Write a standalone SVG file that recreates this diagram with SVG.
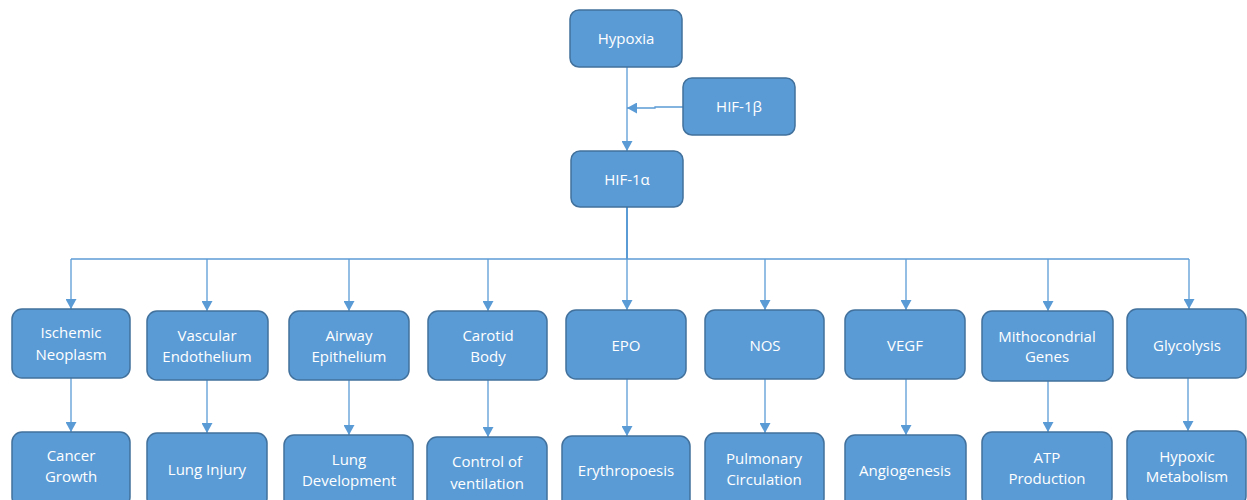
<svg xmlns="http://www.w3.org/2000/svg" width="1247" height="500" viewBox="0 0 1247 500">
<defs>
<marker id="ah" markerUnits="userSpaceOnUse" markerWidth="11" markerHeight="11" refX="10" refY="5.5" orient="auto">
<path d="M0,0 L10,5.5 L0,11 Z" fill="#5B9BD5"/>
</marker>
<style>
.box{fill:#5B9BD5;stroke:#41719C;stroke-width:1.5}
.t{font-family:"Open Sans","Liberation Sans",sans-serif;font-size:15px;fill:#ffffff;text-anchor:middle}
.c{stroke:#5B9BD5;stroke-width:1.3;fill:none}
.a{stroke:#5B9BD5;stroke-width:1.3;fill:none;marker-end:url(#ah)}
</style>
</defs>
<rect width="1247" height="500" fill="#ffffff"/>
<g id="connectors">
<path class="a" d="M627,67 L627,151"/>
<path class="a" d="M683,107 L655,107 L655,108 L627,108"/>
<path class="c" style="stroke-width:2" d="M627,207 L627,259"/>
<path class="c" d="M71,259 L1189,259"/>
<path class="a" d="M71,259 L71,309"/>
<path class="a" d="M207,259 L207,311"/>
<path class="a" d="M349,259 L349,311"/>
<path class="a" d="M488,259 L488,311"/>
<path class="a" d="M627,259 L627,310"/>
<path class="a" d="M765,259 L765,310"/>
<path class="a" d="M906,259 L906,310"/>
<path class="a" d="M1048,259 L1048,311"/>
<path class="a" d="M1189,259 L1189,309"/>
<path class="a" d="M71,378 L71,432"/>
<path class="a" d="M207,380 L207,433"/>
<path class="a" d="M349,380 L349,435"/>
<path class="a" d="M488,380 L488,437"/>
<path class="a" d="M627,379 L627,436"/>
<path class="a" d="M765,379 L765,433"/>
<path class="a" d="M906,379 L906,435"/>
<path class="a" d="M1048,381 L1048,432"/>
<path class="a" d="M1188,378 L1188,431"/>
</g>
<g id="hypoxia"><rect class="box" x="570" y="10" width="112" height="57" rx="9"/><text class="t" x="626" y="44">Hypoxia</text></g>
<g id="hif1b"><rect class="box" x="683" y="78" width="112" height="57" rx="9"/><text class="t" x="739" y="112">HIF-1β</text></g>
<g id="hif1a"><rect class="box" x="571" y="151" width="112" height="56" rx="9"/><text class="t" x="627" y="185">HIF-1α</text></g>

<g id="ischemic"><rect class="box" x="12" y="309" width="118" height="69" rx="10"/><text class="t" x="71" y="338">Ischemic</text><text class="t" x="71" y="360">Neoplasm</text></g>
<g id="vascular"><rect class="box" x="147" y="311" width="121" height="69" rx="10"/><text class="t" x="207" y="341">Vascular</text><text class="t" x="207" y="362">Endothelium</text></g>
<g id="airway"><rect class="box" x="289" y="311" width="120" height="69" rx="10"/><text class="t" x="349" y="341">Airway</text><text class="t" x="349" y="362">Epithelium</text></g>
<g id="carotid"><rect class="box" x="428" y="311" width="119" height="69" rx="10"/><text class="t" x="488" y="341">Carotid</text><text class="t" x="488" y="362">Body</text></g>
<g id="epo"><rect class="box" x="566" y="310" width="120" height="69" rx="10"/><text class="t" x="626" y="351">EPO</text></g>
<g id="nos"><rect class="box" x="705" y="310" width="119" height="69" rx="10"/><text class="t" x="765" y="351">NOS</text></g>
<g id="vegf"><rect class="box" x="845" y="310" width="120" height="69" rx="10"/><text class="t" x="905" y="351">VEGF</text></g>
<g id="mitho"><rect class="box" x="982" y="311" width="131" height="70" rx="10"/><text class="t" x="1047" y="342">Mithocondrial</text><text class="t" x="1047" y="362">Genes</text></g>
<g id="glycolysis"><rect class="box" x="1127" y="309" width="119" height="69" rx="10"/><text class="t" x="1187" y="351">Glycolysis</text></g>

<g id="cancer"><rect class="box" x="12" y="432" width="118" height="75" rx="10"/><text class="t" x="71" y="461">Cancer</text><text class="t" x="71" y="482">Growth</text></g>
<g id="lunginjury"><rect class="box" x="147" y="433" width="120" height="75" rx="10"/><text class="t" x="207" y="475">Lung Injury</text></g>
<g id="lungdev"><rect class="box" x="284" y="435" width="129" height="75" rx="10"/><text class="t" x="349" y="465">Lung</text><text class="t" x="349" y="486">Development</text></g>
<g id="ventilation"><rect class="box" x="427" y="437" width="120" height="75" rx="10"/><text class="t" x="487" y="467">Control of</text><text class="t" x="487" y="489">ventilation</text></g>
<g id="erythro"><rect class="box" x="562" y="436" width="128" height="75" rx="10"/><text class="t" x="626" y="476">Erythropoesis</text></g>
<g id="pulmonary"><rect class="box" x="705" y="433" width="119" height="75" rx="10"/><text class="t" x="764" y="464">Pulmonary</text><text class="t" x="764" y="485">Circulation</text></g>
<g id="angio"><rect class="box" x="845" y="435" width="121" height="75" rx="10"/><text class="t" x="905" y="476">Angiogenesis</text></g>
<g id="atp"><rect class="box" x="982" y="432" width="130" height="75" rx="10"/><text class="t" x="1047" y="463">ATP</text><text class="t" x="1047" y="484">Production</text></g>
<g id="hypoxicmet"><rect class="box" x="1127" y="431" width="119" height="75" rx="10"/><text class="t" x="1187" y="462">Hypoxic</text><text class="t" x="1187" y="482">Metabolism</text></g>
</svg>
